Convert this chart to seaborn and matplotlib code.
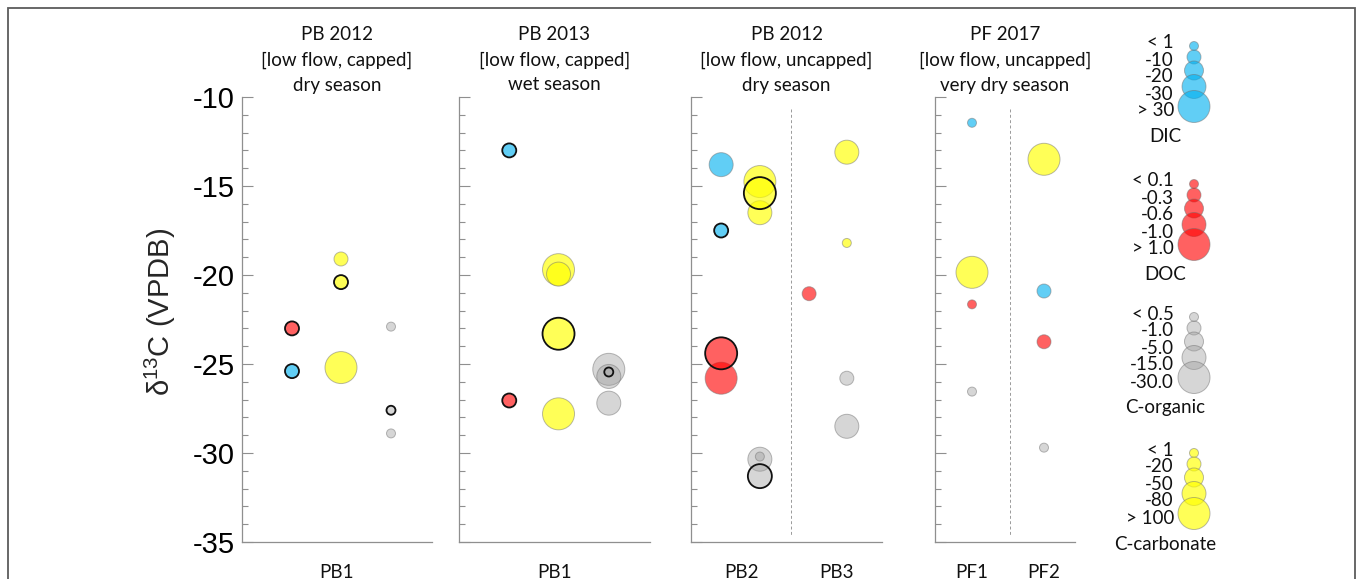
import matplotlib
matplotlib.use("Agg")
import matplotlib.pyplot as plt
from matplotlib.patches import Rectangle
from matplotlib.ticker import MultipleLocator
import pandas as pd
import seaborn as sns

sns.set_theme(style="white")
plt.rcParams["font.family"] = ["Lato", "DejaVu Sans"]
plt.rcParams["axes.unicode_minus"] = False
plt.rcParams["mathtext.default"] = "regular"

# ---------------------------------------------------------------------------
# d13C (per mil VPDB) of each carbon pool; "bin" is the concentration class
# (1 = smallest ... 5 = largest), "outlined" marks samples drawn with a black rim
# ---------------------------------------------------------------------------
pb12c_site = ["PB1"] * 8
pb12c_analyte = ["DIC", "DOC", "C-carbonate", "C-carbonate", "C-carbonate",
                 "C-organic", "C-organic", "C-organic"]
pb12c_d13c = [-25.4, -23.0, -19.1, -20.4, -25.2, -22.9, -27.6, -28.9]
pb12c_bin = [2, 2, 2, 2, 5, 1, 1, 1]
pb12c_outlined = [1, 1, 0, 1, 0, 0, 1, 0]

pb13c_site = ["PB1"] * 10
pb13c_analyte = ["DIC", "DOC", "C-carbonate", "C-carbonate", "C-carbonate",
                 "C-carbonate", "C-organic", "C-organic", "C-organic", "C-organic"]
pb13c_d13c = [-13.0, -27.05, -19.7, -19.95, -23.3, -27.8, -25.3, -25.7, -25.45, -27.2]
pb13c_bin = [2, 2, 5, 4, 5, 5, 5, 4, 1, 4]
pb13c_outlined = [1, 1, 0, 0, 1, 0, 0, 0, 1, 0]

pb12u_site = ["PB2"] * 10 + ["PB3"] * 5
pb12u_analyte = ["DIC", "DIC", "C-carbonate", "C-carbonate", "C-carbonate",
                 "DOC", "DOC", "C-organic", "C-organic", "C-organic",
                 "C-carbonate", "C-carbonate", "DOC", "C-organic", "C-organic"]
pb12u_d13c = [-13.8, -17.5, -14.75, -15.4, -16.5, -24.4, -25.8, -30.35, -30.2, -31.3,
              -13.1, -18.2, -21.05, -25.8, -28.5]
pb12u_bin = [4, 2, 5, 5, 4, 5, 5, 4, 1, 4,
             4, 1, 2, 2, 4]
pb12u_outlined = [0, 1, 0, 1, 0, 1, 0, 0, 0, 1,
                  0, 0, 0, 0, 0]

pf17u_site = ["PF1"] * 4 + ["PF2"] * 4
pf17u_analyte = ["DIC", "C-carbonate", "DOC", "C-organic",
                 "C-carbonate", "DIC", "DOC", "C-organic"]
pf17u_d13c = [-11.45, -19.85, -21.65, -26.55, -13.5, -20.9, -23.75, -29.7]
pf17u_bin = [1, 5, 1, 1, 5, 2, 2, 1]
pf17u_outlined = [0, 0, 0, 0, 0, 0, 0, 0]

panel_titles = [
    ["PB 2012", "[low flow, capped]", "dry season"],
    ["PB 2013", "[low flow, capped]", "wet season"],
    ["PB 2012", "[low flow, uncapped]", "dry season"],
    ["PF 2017", "[low flow, uncapped]", "very dry season"],
]

analytes = ["DIC", "DOC", "C-organic", "C-carbonate"]
legend_labels = {
    "DIC": ["< 1", "-10", "-20", "-30", "> 30"],
    "DOC": ["< 0.1", "-0.3", "-0.6", "-1.0", "> 1.0"],
    "C-organic": ["< 0.5", "-1.0", "-5.0", "-15.0", "-30.0"],
    "C-carbonate": ["< 1", "-20", "-50", "-80", "> 100"],
}
bins = [1, 2, 3, 4, 5]

# ---------------------------------------------------------------------------
# styling
# ---------------------------------------------------------------------------
W, H, DPI = 1357, 579, 100
fill = {
    "DIC": (0.0, 0.69, 0.94, 0.62),
    "DOC": (1.0, 0.0, 0.0, 0.62),
    "C-organic": (0.62, 0.62, 0.62, 0.42),
    "C-carbonate": (1.0, 1.0, 0.0, 0.66),
}
bin_radius_px = {1: 4.5, 2: 7.0, 3: 9.5, 4: 12.0, 5: 16.0}
bin_area = {b: (2 * r * 72 / DPI) ** 2 for b, r in bin_radius_px.items()}
thin_edge = (0.45, 0.45, 0.45, 0.5)
axis_grey = "#8f8f8f"
TXT = 13.5

fig = plt.figure(figsize=(W / DPI, H / DPI), dpi=DPI)


def px_box(x0, x1, y_top, y_bot):
    return [x0 / W, 1 - y_bot / H, (x1 - x0) / W, (y_bot - y_top) / H]


# panel boxes in pixels: (left, right) ; all share the same vertical extent
panel_px = [(242, 432), (459, 650), (691, 882), (935, 1075)]
panel_xmax = [3.8, 3.8, 3.8, 2.8]
column_x = [
    {"PB1": {"DIC": 1.0, "DOC": 1.0, "C-carbonate": 1.98, "C-organic": 2.98}},
    {"PB1": {"DIC": 1.0, "DOC": 1.0, "C-carbonate": 1.98, "C-organic": 2.98}},
    {"PB2": {"DIC": 0.6, "DOC": 0.6, "C-carbonate": 1.37, "C-organic": 1.37},
     "PB3": {"DIC": 2.35, "DOC": 2.35, "C-carbonate": 3.10, "C-organic": 3.10}},
    {"PF1": {a: 0.74 for a in analytes},
     "PF2": {a: 2.18 for a in analytes}},
]
site_divider_x = [None, None, 1.99, 1.5]
site_labels = [[("PB1", 1.9)], [("PB1", 1.9)],
               [("PB2", 1.0), ("PB3", 2.9)], [("PF1", 0.74), ("PF2", 2.18)]]

panels = [
    (pb12c_site, pb12c_analyte, pb12c_d13c, pb12c_bin, pb12c_outlined),
    (pb13c_site, pb13c_analyte, pb13c_d13c, pb13c_bin, pb13c_outlined),
    (pb12u_site, pb12u_analyte, pb12u_d13c, pb12u_bin, pb12u_outlined),
    (pf17u_site, pf17u_analyte, pf17u_d13c, pf17u_bin, pf17u_outlined),
]

Y_TOP, Y_BOT = 97, 542

for i, (site, analyte, d13c, cbin, outlined) in enumerate(panels):
    x0, x1 = panel_px[i]
    ax = fig.add_axes(px_box(x0, x1, Y_TOP, Y_BOT))
    df = pd.DataFrame({"site": site, "analyte": analyte, "d13c": d13c,
                       "bin": cbin, "outlined": outlined})
    df["x"] = [column_x[i][s][a] for s, a in zip(df["site"], df["analyte"])]

    plain = df[df["outlined"] == 0]
    rimmed = df[df["outlined"] == 1]
    if len(plain):
        sns.scatterplot(data=plain, x="x", y="d13c", hue="analyte", size="bin",
                        palette=fill, sizes=bin_area, edgecolor=thin_edge,
                        linewidth=0.7, legend=False, ax=ax, zorder=3)
    if len(rimmed):
        sns.scatterplot(data=rimmed, x="x", y="d13c", hue="analyte", size="bin",
                        palette=fill, sizes=bin_area, edgecolor="#111111",
                        linewidth=1.3, legend=False, ax=ax, zorder=4)

    if site_divider_x[i] is not None:
        ax.plot([site_divider_x[i]] * 2, [-10.7, -34.6], color="#9a9a9a",
                lw=0.7, ls=(0, (3, 2.5)), zorder=1)

    ax.set_xlim(0, panel_xmax[i])
    ax.set_ylim(-35, -10)
    ax.set_xlabel("")
    ax.set_ylabel("")
    ax.set_xticks([])
    for side in ("top", "right"):
        ax.spines[side].set_visible(False)
    for side in ("left", "bottom"):
        ax.spines[side].set_color(axis_grey)
        ax.spines[side].set_linewidth(0.9)
    ax.yaxis.set_major_locator(MultipleLocator(5))
    ax.yaxis.set_minor_locator(MultipleLocator(1))
    ax.tick_params(axis="y", which="major", direction="in", length=8,
                   width=0.8, color=axis_grey, left=True, pad=5,
                   labelsize=21, labelcolor="black")
    ax.tick_params(axis="y", which="minor", direction="in", length=4.3,
                   width=0.8, color=axis_grey, left=True)
    ax.set_facecolor("none")
    if i == 0:
        for lab in ax.get_yticklabels():
            lab.set_fontfamily(["Liberation Sans", "DejaVu Sans"])
    else:
        ax.tick_params(axis="y", labelleft=False)

    # three-line header over each panel
    xc = (x0 + x1) / 2 / W
    for k, line in enumerate(panel_titles[i]):
        fig.text(xc, 1 - (35 + 25 * k) / H, line, ha="center", va="center",
                 fontsize=TXT, color="#111111")

    # site names under the axis
    for name, xv in site_labels[i]:
        xp = x0 + (x1 - x0) * xv / panel_xmax[i]
        fig.text(xp / W, 1 - 572 / H, name, ha="center", va="center",
                 fontsize=TXT, color="#111111")

fig.text(160 / W, 1 - 312 / H, "δ$^{13}$C (VPDB)", rotation=90,
         ha="center", va="center", fontsize=21,
         family=["Liberation Sans", "DejaVu Sans"])

# ---------------------------------------------------------------------------
# size legend: stacked circles per carbon pool
# ---------------------------------------------------------------------------
lax = fig.add_axes(px_box(1100, 1260, 0, H))

block_top = {"DIC": 46, "DOC": 184, "C-organic": 317, "C-carbonate": 453}
circ_x = 1194
rows = []
for a in analytes:
    yc = block_top[a]
    prev_r = None
    for b in bins:
        r = bin_radius_px[b]
        if prev_r is not None:
            yc = yc + r + 4
        rows.append({"analyte": a, "bin": b, "x": circ_x, "y": yc})
        prev_r = r
    for k, lab in enumerate(legend_labels[a]):
        lax.text(1174, block_top[a] - 3 + 17 * k, lab, ha="right", va="center",
                 fontsize=TXT, color="#111111", linespacing=0.9)
    lax.text(1165, block_top[a] + 91, a, ha="center", va="center",
             fontsize=TXT, color="#111111")

leg_df = pd.DataFrame(rows)
sns.scatterplot(data=leg_df, x="x", y="y", hue="analyte", size="bin",
                palette=fill, sizes=bin_area, edgecolor=thin_edge,
                linewidth=0.7, legend=False, ax=lax)
lax.set_xlim(1100, 1260)
lax.set_ylim(H, 0)
lax.axis("off")

# outer frame
fig.add_artist(Rectangle((8 / W, -0.05), 1347 / W, 1.05 - 8 / H, fill=False,
                         ec="#5c5c5c", lw=1.3, transform=fig.transFigure))

fig.savefig("out.png", dpi=DPI)
